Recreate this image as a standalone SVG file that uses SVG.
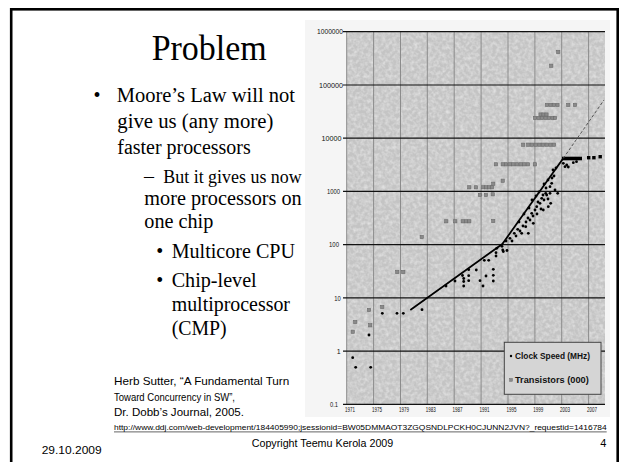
<svg xmlns="http://www.w3.org/2000/svg" xmlns:xlink="http://www.w3.org/1999/xlink" width="621" height="462" viewBox="0 0 621 462">
<defs>
<style>
.serif{font-family:"Liberation Serif","Times New Roman",serif;fill:#000}
.sans{font-family:"Liberation Sans",Arial,sans-serif;fill:#000}
.ylab{font-family:"Liberation Sans",Arial,sans-serif;font-size:7px;text-anchor:end;fill:#111}
.xlab{font-family:"Liberation Sans",Arial,sans-serif;font-size:7.5px;text-anchor:middle;fill:#111}
.hg{stroke:#111;stroke-width:1.2}
.vg{stroke:#8c8c8c;stroke-width:1}
.leg{font-family:"Liberation Sans",Arial,sans-serif;font-size:9px;font-weight:bold;fill:#111}
</style>
<filter id="tex" x="0" y="0" width="1" height="1">
<feTurbulence type="fractalNoise" baseFrequency="0.28" numOctaves="2" seed="7"/>
<feColorMatrix type="matrix" values="0 0 0 0 1  0 0 0 0 1  0 0 0 0 1  0.9 0 0 0 -0.32"/>
</filter>
<rect id="sq" x="-1.6" y="-1.6" width="3.2" height="3.2" fill="#8a8a8a" stroke="#6a6a6a" stroke-width="0.6"/>
<circle id="dt" r="1.4" fill="#000"/>
</defs>

<rect width="621" height="462" fill="#fff"/>

<g id="frame">
<rect x="11.2" y="9.3" width="606.5" height="470" fill="none" stroke="#000" stroke-width="2.6"/>
</g>

<g id="title">
<text class="serif" x="151.7" y="60" font-size="35" textLength="115" lengthAdjust="spacingAndGlyphs">Problem</text>
</g>

<g id="bullets">
<text class="serif" x="93.5" y="101.7" font-size="20">•</text>
<text class="serif" x="116.7" y="101.7" font-size="20" textLength="178.3" lengthAdjust="spacingAndGlyphs">Moore’s Law will not</text>
<text class="serif" x="117.3" y="127.7" font-size="20" textLength="156" lengthAdjust="spacingAndGlyphs">give us (any more)</text>
<text class="serif" x="117.3" y="154" font-size="20" textLength="133.4" lengthAdjust="spacingAndGlyphs">faster processors</text>
<text class="serif" x="144" y="182.7" font-size="20">–</text>
<text class="serif" x="163.3" y="182.7" font-size="19" textLength="138.4" lengthAdjust="spacingAndGlyphs">But it gives us now</text>
<text class="serif" x="144.3" y="205" font-size="20" textLength="157.4" lengthAdjust="spacingAndGlyphs">more processors on</text>
<text class="serif" x="144.3" y="228.3" font-size="20" textLength="69" lengthAdjust="spacingAndGlyphs">one chip</text>
<text class="serif" x="156.3" y="258.3" font-size="20">•</text>
<text class="serif" x="171.7" y="258.3" font-size="20" textLength="123.3" lengthAdjust="spacingAndGlyphs">Multicore CPU</text>
<text class="serif" x="156.3" y="286.7" font-size="20">•</text>
<text class="serif" x="171.7" y="286.7" font-size="20" textLength="85" lengthAdjust="spacingAndGlyphs">Chip-level</text>
<text class="serif" x="171.7" y="310.7" font-size="20" textLength="118.3" lengthAdjust="spacingAndGlyphs">multiprocessor</text>
<text class="serif" x="171.7" y="335" font-size="20" textLength="55" lengthAdjust="spacingAndGlyphs">(CMP)</text>
</g>

<g id="citation">
<text class="sans" x="114" y="385" font-size="10.5" textLength="175.3" lengthAdjust="spacingAndGlyphs">Herb Sutter, “A Fundamental Turn</text>
<text class="sans" x="114" y="400.7" font-size="10.5" textLength="121" lengthAdjust="spacingAndGlyphs">Toward Concurrency in SW”,</text>
<text class="sans" x="114" y="416" font-size="10.5" textLength="130" lengthAdjust="spacingAndGlyphs">Dr. Dobb’s Journal, 2005.</text>
</g>

<g id="chart">
<rect x="305" y="20" width="305" height="397" fill="#f5f5f5"/>
<rect x="346.7" y="31.7" width="258.3" height="372.6" fill="#c4c4c4"/>
<rect x="346.7" y="31.7" width="258.3" height="372.6" filter="url(#tex)"/>
<g id="vgrid">
<line class="vg" x1="346.7" y1="31.7" x2="346.7" y2="404.3"/>
<line class="vg" x1="373.6" y1="31.7" x2="373.6" y2="404.3"/>
<line class="vg" x1="400.5" y1="31.7" x2="400.5" y2="404.3"/>
<line class="vg" x1="427.3" y1="31.7" x2="427.3" y2="404.3"/>
<line class="vg" x1="454.2" y1="31.7" x2="454.2" y2="404.3"/>
<line class="vg" x1="481.1" y1="31.7" x2="481.1" y2="404.3"/>
<line class="vg" x1="508" y1="31.7" x2="508" y2="404.3"/>
<line class="vg" x1="534.9" y1="31.7" x2="534.9" y2="404.3"/>
<line class="vg" x1="561.7" y1="31.7" x2="561.7" y2="404.3"/>
<line class="vg" x1="588.6" y1="31.7" x2="588.6" y2="404.3"/>
</g>
<g id="hgrid">
<line class="hg" x1="343" y1="31.7" x2="605" y2="31.7"/>
<line class="hg" x1="343" y1="85" x2="605" y2="85"/>
<line class="hg" x1="343" y1="138.2" x2="605" y2="138.2"/>
<line class="hg" x1="343" y1="191.4" x2="605" y2="191.4"/>
<line class="hg" x1="343" y1="244.6" x2="605" y2="244.6"/>
<line class="hg" x1="343" y1="297.9" x2="605" y2="297.9"/>
<line class="hg" x1="343" y1="351.1" x2="605" y2="351.1"/>
<line class="hg" x1="343" y1="404.3" x2="605" y2="404.3"/>
</g>
<g id="yaxis">
<text class="ylab" x="343" y="34.3" textLength="26" lengthAdjust="spacingAndGlyphs">1000000</text>
<text class="ylab" x="343" y="87.6" textLength="24" lengthAdjust="spacingAndGlyphs">100000</text>
<text class="ylab" x="341.5" y="140.8" textLength="20" lengthAdjust="spacingAndGlyphs">10000</text>
<text class="ylab" x="340" y="194" textLength="13" lengthAdjust="spacingAndGlyphs">1000</text>
<text class="ylab" x="339" y="247.2" textLength="10" lengthAdjust="spacingAndGlyphs">100</text>
<text class="ylab" x="340.7" y="300.5" textLength="6.5" lengthAdjust="spacingAndGlyphs">10</text>
<text class="ylab" x="340.7" y="353.7">1</text>
<text class="ylab" x="338" y="406.9" textLength="8" lengthAdjust="spacingAndGlyphs">0.1</text>
</g>
<g id="xaxis">
<text class="xlab" x="350.1" y="412.3" textLength="10" lengthAdjust="spacingAndGlyphs">1971</text>
<text class="xlab" x="377" y="412.3" textLength="10" lengthAdjust="spacingAndGlyphs">1975</text>
<text class="xlab" x="403.9" y="412.3" textLength="10" lengthAdjust="spacingAndGlyphs">1979</text>
<text class="xlab" x="430.7" y="412.3" textLength="10" lengthAdjust="spacingAndGlyphs">1983</text>
<text class="xlab" x="457.6" y="412.3" textLength="10" lengthAdjust="spacingAndGlyphs">1987</text>
<text class="xlab" x="484.5" y="412.3" textLength="10" lengthAdjust="spacingAndGlyphs">1991</text>
<text class="xlab" x="511.4" y="412.3" textLength="10" lengthAdjust="spacingAndGlyphs">1995</text>
<text class="xlab" x="538.2" y="412.3" textLength="10" lengthAdjust="spacingAndGlyphs">1999</text>
<text class="xlab" x="565.1" y="412.3" textLength="10" lengthAdjust="spacingAndGlyphs">2003</text>
<text class="xlab" x="592" y="412.3" textLength="10" lengthAdjust="spacingAndGlyphs">2007</text>
</g>

<g id="transistors">
<use href="#sq" x="352.7" y="331.7"/><use href="#sq" x="355.3" y="322"/><use href="#sq" x="369" y="310"/><use href="#sq" x="370.3" y="325.3"/><use href="#sq" x="382.3" y="307"/>
<use href="#sq" x="397.3" y="272"/><use href="#sq" x="403.3" y="272"/><use href="#sq" x="421.7" y="237"/>
<use href="#sq" x="446.3" y="221.3"/><use href="#sq" x="455.3" y="221.3"/><use href="#sq" x="462.7" y="221.3"/><use href="#sq" x="466" y="221.3"/><use href="#sq" x="469.3" y="221.3"/><use href="#sq" x="493.3" y="221"/>
<use href="#sq" x="469.3" y="187.3"/><use href="#sq" x="476" y="187.3"/><use href="#sq" x="483.3" y="187.3"/><use href="#sq" x="486.3" y="187.3"/><use href="#sq" x="489.3" y="187.3"/><use href="#sq" x="492" y="187.3"/><use href="#sq" x="493.3" y="183.7"/>
<use href="#sq" x="480" y="195"/><use href="#sq" x="486" y="195"/><use href="#sq" x="492.7" y="194.3"/>
<use href="#sq" x="502.7" y="180.7"/>
<use href="#sq" x="496" y="164.3"/><use href="#sq" x="502.7" y="164.3"/><use href="#sq" x="506" y="164.3"/><use href="#sq" x="509.7" y="164.3"/><use href="#sq" x="513.3" y="164.3"/><use href="#sq" x="517" y="164.3"/><use href="#sq" x="520.7" y="164.3"/><use href="#sq" x="524.3" y="164.3"/><use href="#sq" x="528" y="164.3"/><use href="#sq" x="535" y="164.3"/>
<use href="#sq" x="523.3" y="144.7"/><use href="#sq" x="528.3" y="144.7"/><use href="#sq" x="532" y="144.7"/><use href="#sq" x="535.7" y="144.7"/><use href="#sq" x="539.4" y="144.7"/><use href="#sq" x="543" y="144.7"/><use href="#sq" x="546.7" y="144.7"/><use href="#sq" x="550.4" y="144.7"/><use href="#sq" x="554" y="144.7"/>
<use href="#sq" x="535" y="118"/><use href="#sq" x="538.5" y="118"/><use href="#sq" x="542" y="118"/><use href="#sq" x="545.5" y="118"/><use href="#sq" x="549" y="118"/><use href="#sq" x="552.5" y="118"/><use href="#sq" x="555" y="118"/>
<use href="#sq" x="540.5" y="114.5"/><use href="#sq" x="543.5" y="114.5"/><use href="#sq" x="546.5" y="114.5"/>
<use href="#sq" x="547" y="105"/><use href="#sq" x="550.5" y="105"/><use href="#sq" x="554" y="105"/><use href="#sq" x="557.5" y="105"/><use href="#sq" x="568.3" y="105"/><use href="#sq" x="575" y="105"/>
<use href="#sq" x="551.3" y="65.7"/><use href="#sq" x="558.3" y="52"/>
</g>

<g id="clock">
<use href="#dt" x="352.7" y="357.7"/><use href="#dt" x="355.7" y="367.3"/><use href="#dt" x="370.7" y="367.3"/><use href="#dt" x="369" y="335"/>
<use href="#dt" x="382.3" y="313.3"/><use href="#dt" x="397" y="313.3"/><use href="#dt" x="403.3" y="313.3"/><use href="#dt" x="422" y="309.7"/>
<use href="#dt" x="446" y="286"/><use href="#dt" x="455" y="281"/><use href="#dt" x="462.5" y="275.5"/><use href="#dt" x="463.7" y="278.5"/><use href="#dt" x="463.7" y="286"/><use href="#dt" x="463.7" y="281.5"/>
<use href="#dt" x="468.7" y="269.7"/><use href="#dt" x="468.7" y="275.7"/><use href="#dt" x="468.7" y="280.7"/><use href="#dt" x="476.3" y="270"/><use href="#dt" x="480" y="280.7"/><use href="#dt" x="483" y="286"/>
<use href="#dt" x="484.3" y="260.3"/><use href="#dt" x="488.7" y="260.3"/><use href="#dt" x="486" y="276"/><use href="#dt" x="493.3" y="269.3"/><use href="#dt" x="493.3" y="275.3"/><use href="#dt" x="493.3" y="281"/>
<use href="#dt" x="496" y="256"/><use href="#dt" x="496" y="252.7"/><use href="#dt" x="496.7" y="248.3"/><use href="#dt" x="502" y="246.3"/><use href="#dt" x="502.7" y="250"/><use href="#dt" x="503.3" y="251.5"/><use href="#dt" x="507" y="250.5"/>
<use href="#dt" x="506" y="241"/><use href="#dt" x="510" y="238.3"/><use href="#dt" x="512" y="241"/><use href="#dt" x="514.3" y="233.3"/><use href="#dt" x="516" y="236"/><use href="#dt" x="517.7" y="229.3"/><use href="#dt" x="520" y="231"/><use href="#dt" x="521.7" y="233.3"/>
<use href="#dt" x="523" y="226"/><use href="#dt" x="525.7" y="226.7"/><use href="#dt" x="526" y="222"/><use href="#dt" x="528.3" y="233.3"/><use href="#dt" x="528" y="218"/><use href="#dt" x="530" y="220"/><use href="#dt" x="531.7" y="213.3"/><use href="#dt" x="533" y="216"/><use href="#dt" x="533.3" y="223.3"/>
<use href="#dt" x="535" y="210"/><use href="#dt" x="536.7" y="206.7"/><use href="#dt" x="537" y="214"/><use href="#dt" x="538" y="202"/><use href="#dt" x="540" y="203.3"/><use href="#dt" x="541" y="209"/><use href="#dt" x="541.7" y="198.3"/><use href="#dt" x="543.3" y="210"/>
<use href="#dt" x="543" y="195"/><use href="#dt" x="544" y="200"/><use href="#dt" x="546.7" y="195"/><use href="#dt" x="546" y="188"/><use href="#dt" x="548.3" y="206.7"/><use href="#dt" x="548" y="199"/><use href="#dt" x="550" y="193.3"/><use href="#dt" x="550" y="186.7"/>
<use href="#dt" x="551.7" y="183.3"/><use href="#dt" x="550.7" y="203.3"/><use href="#dt" x="552" y="178"/><use href="#dt" x="554" y="176"/><use href="#dt" x="555" y="190"/><use href="#dt" x="557.7" y="193.3"/><use href="#dt" x="553" y="170"/><use href="#dt" x="556" y="168"/>
<use href="#dt" x="545.7" y="193.3"/><use href="#dt" x="539" y="192"/><use href="#dt" x="536" y="196"/><use href="#dt" x="532" y="200"/><use href="#dt" x="529" y="208"/><use href="#dt" x="524" y="214"/><use href="#dt" x="519" y="222"/><use href="#dt" x="544" y="184"/><use href="#dt" x="548" y="180"/>
<use href="#dt" x="563.3" y="163.3"/><use href="#dt" x="565" y="166.7"/><use href="#dt" x="566.7" y="165"/><use href="#dt" x="568.3" y="167"/><use href="#dt" x="573.3" y="162.7"/><use href="#dt" x="576.5" y="161.7"/>
<rect x="587" y="156" width="3.4" height="3.4" fill="#000"/><rect x="592.2" y="156" width="3.4" height="3.4" fill="#000"/><rect x="598.5" y="155" width="3.4" height="3.4" fill="#000"/>
</g>

<g id="trend">
<polyline points="410.3,310 502.3,244 563.3,158.3" fill="none" stroke="#000" stroke-width="1.8"/>
<line x1="562" y1="158.5" x2="582" y2="158.5" stroke="#000" stroke-width="3.6"/>
<line x1="563.3" y1="158.3" x2="604" y2="100" stroke="#555" stroke-width="1" stroke-dasharray="3,2"/>
</g>

<g id="legend">
<rect x="504.3" y="342.3" width="96.7" height="52" fill="#d5d5d5" stroke="#444" stroke-width="1"/>
<circle cx="511" cy="356" r="1.2" fill="#000"/>
<text class="leg" x="515" y="359" textLength="75" lengthAdjust="spacingAndGlyphs">Clock Speed (MHz)</text>
<rect x="509.6" y="378.5" width="2.8" height="2.8" fill="#8a8a8a" stroke="#6a6a6a" stroke-width="0.5"/>
<text class="leg" x="515" y="383.3" textLength="73.7" lengthAdjust="spacingAndGlyphs">Transistors (000)</text>
</g>
</g>

<g id="footer">
<text class="sans" x="114" y="430" font-size="6.8" fill="#222" textLength="492.7" lengthAdjust="spacingAndGlyphs">http://www.ddj.com/web-development/184405990;jsessionid=BW05DMMAOT3ZGQSNDLPCKH0CJUNN2JVN?_requestid=1416784</text>
<line x1="114" y1="431.9" x2="606.7" y2="431.9" stroke="#222" stroke-width="0.7"/>
<text class="sans" x="41.7" y="454" font-size="11.5" textLength="60" lengthAdjust="spacingAndGlyphs">29.10.2009</text>
<text class="sans" x="251.7" y="446.7" font-size="11" textLength="141.6" lengthAdjust="spacingAndGlyphs">Copyright Teemu Kerola 2009</text>
<text class="sans" x="600.3" y="446.7" font-size="11">4</text>
</g>
</svg>
